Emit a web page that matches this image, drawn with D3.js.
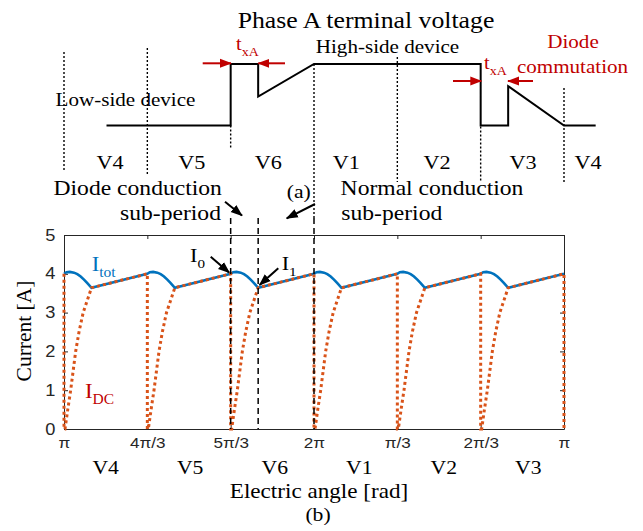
<!DOCTYPE html>
<html>
<head>
<meta charset="utf-8">
<script src="https://cdn.jsdelivr.net/npm/d3@7"></script>
<style>
  body { margin: 0; background: #fff; }
</style>
</head>
<body>
<div id="fig"></div>
<script>
// Datos
const sectors = [0, 1, 2, 3, 4, 5, 6];
const tickLabels = ["π", "4π/3", "5π/3", "2π", "π/3", "2π/3", "π"];
const sectorNames = ["V4", "V5", "V6", "V1", "V2", "V3"];
const upperNames = ["V4", "V5", "V6", "V1", "V2", "V3", "V4"];
const yTicks = [0, 1, 2, 3, 4, 5];

// one sector (fraction of pi/3) of the currents, same in every sector
const itotFrac = [0, 0.03, 0.07, 0.12, 0.16, 0.20, 0.24, 0.28, 0.33, 1];
const itotVal  = [4.00, 4.04, 4.05, 4.03, 3.99, 3.93, 3.85, 3.76, 3.64, 4.00];
const idcFrac  = [0, 0, 0.012, 0.045, 0.08, 0.11, 0.14, 0.18, 0.23, 0.33, 1];
const idcVal   = [4.00, 0, 0, 0.5, 1.0, 1.5, 2.0, 2.5, 3.0, 3.64, 4.00];

// phase A terminal voltage (0 = low side, 1 = high side), x in sectors
const waveX = [0.51, 2.00, 2.00, 2.33, 2.33, 3.00, 5.00, 5.00, 5.33, 5.33, 6.00, 6.38];
const waveV = [0, 0, 1, 1, 0.47, 1, 1, 0, 0, 0.64, 0, 0];

const svgWidth = 643, svgHeight = 531;
const SX = 1.14; // the figure text is a bit wide
const serif = "'Liberation Serif', 'Times New Roman', serif";
const sans = "'Liberation Sans', Arial, sans-serif";
const blue = "#0072BD", orange = "#D95319", red = "#C00000";

const svg = d3.select("#fig").append("svg")
  .attr("width", svgWidth).attr("height", svgHeight);

const x = d3.scaleLinear().domain([0, 6]).range([64, 564]);
const y = d3.scaleLinear().domain([0, 5]).range([429, 235]);
const yv = d3.scaleLinear().domain([0, 1]).range([125.5, 64]);

// markers
const defs = svg.append("defs");
[["arrowK", "#000"], ["arrowR", red]].forEach(([id, c]) => {
  defs.append("marker").attr("id", id)
    .attr("viewBox", "0 -5 12 10").attr("refX", 11).attr("refY", 0)
    .attr("markerUnits", "userSpaceOnUse")
    .attr("markerWidth", 12).attr("markerHeight", 10)
    .attr("orient", "auto")
    .append("path").attr("d", "M0,-4.5L12,0L0,4.5Z").attr("fill", c);
});

// texto con subindices ({t, sub:true} = subindice)
function label(px, py, parts, size, opts = {}) {
  const g = svg.append("g")
    .attr("transform", `translate(${px},${py}) rotate(${opts.rot || 0}) scale(${opts.rot ? 1 : SX},1)`);
  const t = g.append("text")
    .attr("text-anchor", opts.anchor || "middle")
    .attr("dy", "0.35em")
    .style("font-family", opts.family || serif)
    .style("font-size", size + "px")
    .style("fill", opts.color || "#000");
  parts.forEach(p => {
    const isSub = typeof p === "object" && p.sub === true;
    const s = t.append("tspan").text(isSub ? p.t : p);
    if (isSub) s.style("font-size", (size * 0.68) + "px").attr("dy", "0.45em");
  });
  return t;
}

// ---------- (a) terminal voltage ----------
const dotted = [[0, 52, 170], [1, 48, 175], [2, 125.5, 148], [3, 64, 218],
                [4, 57, 182], [5, 126.5, 182], [6, 88, 182]];
svg.append("g").selectAll("line").data(dotted).enter().append("line")
  .attr("x1", d => x(sectors[d[0]])).attr("x2", d => x(sectors[d[0]]))
  .attr("y1", d => d[1]).attr("y2", d => d[2])
  .attr("stroke", "#000").attr("stroke-width", 1.4)
  .attr("stroke-dasharray", "2,2");

svg.append("path")
  .datum(waveX.map((d, i) => [d, waveV[i]]))
  .attr("fill", "none").attr("stroke", "#000").attr("stroke-width", 2)
  .attr("d", d3.line().x(d => x(d[0])).y(d => yv(d[1])));

// red t_xA arrows
const redArrows = [[202.7, 231, 63.3], [285, 258.3, 63.3], [453, 481.3, 81], [533, 508, 81]];
svg.append("g").selectAll("line").data(redArrows).enter().append("line")
  .attr("x1", d => d[0]).attr("x2", d => d[1])
  .attr("y1", d => d[2]).attr("y2", d => d[2])
  .attr("stroke", red).attr("stroke-width", 2)
  .attr("marker-end", "url(#arrowR)");

label(366, 20, ["Phase A terminal voltage"], 22.6);
label(387.5, 46.7, ["High-side device"], 18.5);
label(125.5, 100, ["Low-side device"], 18.5);
label(236, 44, ["t", { t: "xA", sub: true }], 18, { anchor: "start", color: red });
label(484, 63, ["t", { t: "xA", sub: true }], 18, { anchor: "start", color: red });
label(573, 41.7, ["Diode"], 18.5, { color: red });
label(572.5, 66.7, ["commutation"], 18.5, { color: red });

const upperPos = [110, 191.7, 268.3, 346.3, 437, 523, 588];
upperNames.forEach((n, i) => label(upperPos[i], 162.3, [n], 19.5));

label(137.7, 188, ["Diode conduction"], 20.7);
label(170.5, 213, ["sub-period"], 20.7);
label(298.7, 191.7, ["(a)"], 19);
label(432, 188, ["Normal conduction"], 20.7);
label(391.8, 213, ["sub-period"], 20.7);

const blackArrows = [[225, 201.7, 242, 215.5], [315, 204, 286.7, 218.3],
                     [210.7, 256.7, 229.3, 272.7], [278.3, 268.3, 259.5, 285]];
svg.append("g").selectAll("line").data(blackArrows).enter().append("line")
  .attr("x1", d => d[0]).attr("y1", d => d[1])
  .attr("x2", d => d[2]).attr("y2", d => d[3])
  .attr("stroke", "#000").attr("stroke-width", 2)
  .attr("marker-end", "url(#arrowK)");

// ---------- (b) currents ----------
const itot = [], idc = [];
sectorNames.forEach((n, s) => {
  itotFrac.forEach((f, i) => itot.push([s + f, itotVal[i]]));
  idcFrac.forEach((f, i) => idc.push([s + f, idcVal[i]]));
});
idc.push([6, idcVal[1]]);

const axisColor = "#262626";
const xAxis = svg.append("g").attr("transform", `translate(0,${y(0)})`)
  .call(d3.axisBottom(x).tickValues(sectors).tickFormat((d, i) => tickLabels[i])
    .tickSizeInner(-4).tickSizeOuter(0).tickPadding(12));
const xTop = svg.append("g").attr("transform", `translate(0,${y(5)})`)
  .call(d3.axisTop(x).tickValues(sectors).tickFormat("").tickSizeInner(-4).tickSizeOuter(0));
const yAxis = svg.append("g").attr("transform", `translate(${x(0)},0)`)
  .call(d3.axisLeft(y).tickValues(yTicks).tickFormat(d3.format("d"))
    .tickSizeInner(-4).tickSizeOuter(0).tickPadding(8));
const yRight = svg.append("g").attr("transform", `translate(${x(6)},0)`)
  .call(d3.axisRight(y).tickValues(yTicks).tickFormat("").tickSizeInner(-4).tickSizeOuter(0));

[xAxis, xTop, yAxis, yRight].forEach(a => {
  a.select(".domain").attr("stroke", axisColor).attr("stroke-width", 1);
  a.selectAll(".tick line").attr("stroke", axisColor);
  a.selectAll("text").style("font-family", sans).style("font-size", "15px").attr("fill", axisColor);
});
xAxis.selectAll(".tick text").attr("transform", `scale(${SX},1)`).attr("dy", "0.45em");
yAxis.selectAll(".tick text").attr("transform", `scale(${SX},1)`).attr("x", -7.5)
  .style("font-size", "16px");

svg.append("path").datum(itot)
  .attr("fill", "none").attr("stroke", blue).attr("stroke-width", 2.6)
  .attr("d", d3.line().x(d => x(d[0])).y(d => y(d[1])));

svg.append("path").datum(idc)
  .attr("fill", "none").attr("stroke", orange).attr("stroke-width", 3)
  .attr("stroke-dasharray", "3,3")
  .attr("d", d3.line().x(d => x(d[0])).y(d => y(d[1])));

// dashed marks I0, I1, 2pi
const dashX = [2, 2 + itotFrac[8], 3];
svg.append("g").selectAll("line").data(dashX).enter().append("line")
  .attr("x1", d => x(d)).attr("x2", d => x(d))
  .attr("y1", 218).attr("y2", y(0))
  .attr("stroke", "#000").attr("stroke-width", 1.5)
  .attr("stroke-dasharray", "6,4");

label(190, 255, ["I", { t: "0", sub: true }], 19.5, { anchor: "start" });
label(281.7, 263.3, ["I", { t: "1", sub: true }], 19.5, { anchor: "start" });
label(91.7, 264, ["I", { t: "tot", sub: true }], 20, { anchor: "start", color: blue });
label(85, 391, ["I", { t: "DC", sub: true }], 20, { anchor: "start", color: red });

label(23.5, 331, ["Current [A]"], 21.5, { rot: -90 });
sectorNames.forEach((n, i) => label(x(sectors[i] + 0.5) + i * 1.2, 467.5, [n], 19));
label(319, 491, ["Electric angle [rad]"], 20.3);
label(318, 514, ["(b)"], 19);
</script>
</body>
</html>
